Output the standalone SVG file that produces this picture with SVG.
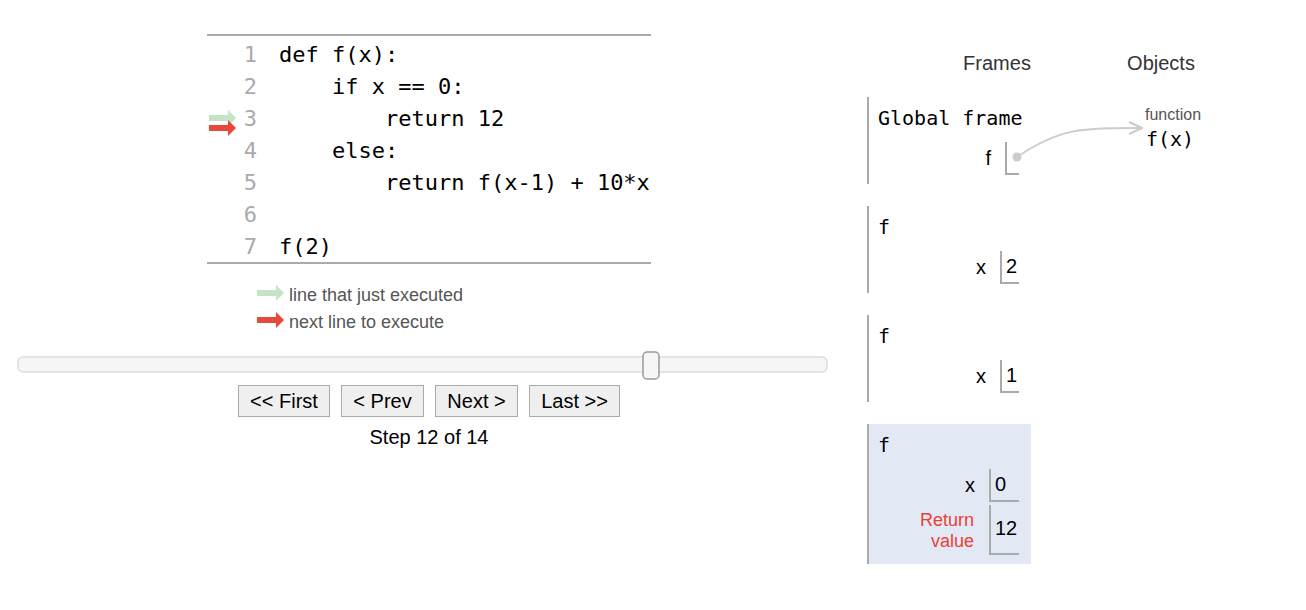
<svg xmlns="http://www.w3.org/2000/svg" width="1306" height="610" viewBox="0 0 1306 610">
<style>
.code{font-family:"DejaVu Sans Mono",monospace;font-size:22px;fill:#000}
.ln{font-family:"DejaVu Sans Mono",monospace;font-size:22px;fill:#aaa;text-anchor:end}
.mono{font-family:"DejaVu Sans Mono",monospace;font-size:20px;fill:#000}
.sans{font-family:"Liberation Sans",Arial,sans-serif;font-size:20px;fill:#000}
.hdr{font-family:"Liberation Sans",Arial,sans-serif;font-size:20px;fill:#333;text-anchor:middle}
.leg{font-family:"Liberation Sans",Arial,sans-serif;font-size:18px;fill:#555}
.btn rect{fill:#efefef;stroke:#aaa;stroke-width:1}
.btn text{font-family:"Liberation Sans",Arial,sans-serif;font-size:20px;fill:#000;text-anchor:middle}
.fb{stroke:#aaa;stroke-width:2;fill:none}
.vb{stroke:#aaa;stroke-width:2;fill:none}
.var{font-family:"Liberation Sans",Arial,sans-serif;font-size:20px;fill:#000;text-anchor:end}
.val{font-family:"Liberation Sans",Arial,sans-serif;font-size:20px;fill:#000}
</style>
<defs>
<path id="arr" d="M0,-3 H19 V-8 L27,0 L19,8 V3 H0 Z"/>
<marker id="chev" markerWidth="16" markerHeight="14" refX="15" refY="7" orient="auto" markerUnits="userSpaceOnUse">
<path d="M2,1 L15,7 L2,13" fill="none" stroke="#ccc" stroke-width="2"/>
</marker>
</defs>
<rect width="1306" height="610" fill="#fff"/>

<g id="code">
<line x1="207" y1="35" x2="651" y2="35" stroke="#aaa" stroke-width="2"/>
<line x1="207" y1="263" x2="651" y2="263" stroke="#aaa" stroke-width="2"/>
<text class="ln" x="257" y="62">1</text>
<text class="ln" x="257" y="94">2</text>
<text class="ln" x="257" y="126">3</text>
<text class="ln" x="257" y="158">4</text>
<text class="ln" x="257" y="190">5</text>
<text class="ln" x="257" y="222">6</text>
<text class="ln" x="257" y="254">7</text>
<text class="code" x="279" y="62" xml:space="preserve">def f(x):</text>
<text class="code" x="279" y="94" xml:space="preserve">    if x == 0:</text>
<text class="code" x="279" y="126" xml:space="preserve">        return 12</text>
<text class="code" x="279" y="158" xml:space="preserve">    else:</text>
<text class="code" x="279" y="190" xml:space="preserve">        return f(x-1) + 10*x</text>
<text class="code" x="279" y="254" xml:space="preserve">f(2)</text>
<use href="#arr" x="209" y="118" fill="#c5e4c7"/>
<use href="#arr" x="209" y="128" fill="#e8483a"/>
</g>

<g id="legend">
<use href="#arr" x="257" y="293" fill="#c5e4c7"/>
<text class="leg" x="289" y="301">line that just executed</text>
<use href="#arr" x="257" y="320" fill="#e8483a"/>
<text class="leg" x="289" y="328">next line to execute</text>
</g>

<g id="slider">
<rect x="18" y="357" width="809" height="15" rx="5" fill="#f6f6f6" stroke="#ddd" stroke-width="1.5"/>
<rect x="643" y="352" width="16" height="27" rx="4" fill="#f6f6f6" stroke="#999" stroke-width="1.5"/>
</g>

<g id="buttons">
<g class="btn" id="btn-first"><rect x="238.5" y="385.5" width="91" height="31"/><text x="284" y="408">&lt;&lt; First</text></g>
<g class="btn" id="btn-prev"><rect x="341.5" y="385.5" width="82" height="31"/><text x="382.5" y="408">&lt; Prev</text></g>
<g class="btn" id="btn-next"><rect x="435.5" y="385.5" width="82" height="31"/><text x="476.5" y="408">Next &gt;</text></g>
<g class="btn" id="btn-last"><rect x="529.5" y="385.5" width="90" height="31"/><text x="574.5" y="408">Last &gt;&gt;</text></g>
<text class="sans" x="429" y="444" text-anchor="middle">Step 12 of 14</text>
</g>

<g id="headers">
<text class="hdr" x="997" y="70">Frames</text>
<text class="hdr" x="1161" y="70">Objects</text>
</g>

<g id="global-frame">
<line class="fb" x1="868" y1="97" x2="868" y2="184"/>
<text class="mono" x="878" y="125">Global frame</text>
<text class="var" x="991" y="165">f</text>
<path class="vb" d="M1006,142 V174 H1019"/>
<circle cx="1017" cy="157" r="4.5" fill="#ccc"/>
</g>

<g id="frame-f1">
<line class="fb" x1="868" y1="206" x2="868" y2="293"/>
<text class="mono" x="878" y="234">f</text>
<text class="var" x="986" y="274">x</text>
<path class="vb" d="M1001,251 V283 H1019"/>
<text class="val" x="1006" y="273">2</text>
</g>

<g id="frame-f2">
<line class="fb" x1="868" y1="315" x2="868" y2="402"/>
<text class="mono" x="878" y="343">f</text>
<text class="var" x="986" y="383">x</text>
<path class="vb" d="M1001,360 V392 H1019"/>
<text class="val" x="1006" y="382">1</text>
</g>

<g id="frame-f3">
<rect x="868" y="424" width="163" height="140" fill="#e2e9f4"/>
<line class="fb" x1="868" y1="424" x2="868" y2="564"/>
<text class="mono" x="878" y="452">f</text>
<text class="var" x="975" y="492">x</text>
<path class="vb" d="M990,469 V501 H1019"/>
<text class="val" x="995" y="491">0</text>
<text class="var" x="974" y="526" style="fill:#e93f34;font-size:18px">Return</text>
<text class="var" x="974" y="547" style="fill:#e93f34;font-size:18px">value</text>
<path class="vb" d="M990,505 V554 H1019"/>
<text class="val" x="995" y="535">12</text>
</g>

<g id="function-object">
<text x="1145" y="120" style="font-family:'Liberation Sans',Arial,sans-serif;font-size:16px;fill:#555">function</text>
<text class="mono" x="1146" y="146">f(x)</text>
</g>

<g id="connectors">
<path d="M1017,157 C1060,128 1080,128 1142,128" fill="none" stroke="#ccc" stroke-width="2" marker-end="url(#chev)"/>
</g>
</svg>
